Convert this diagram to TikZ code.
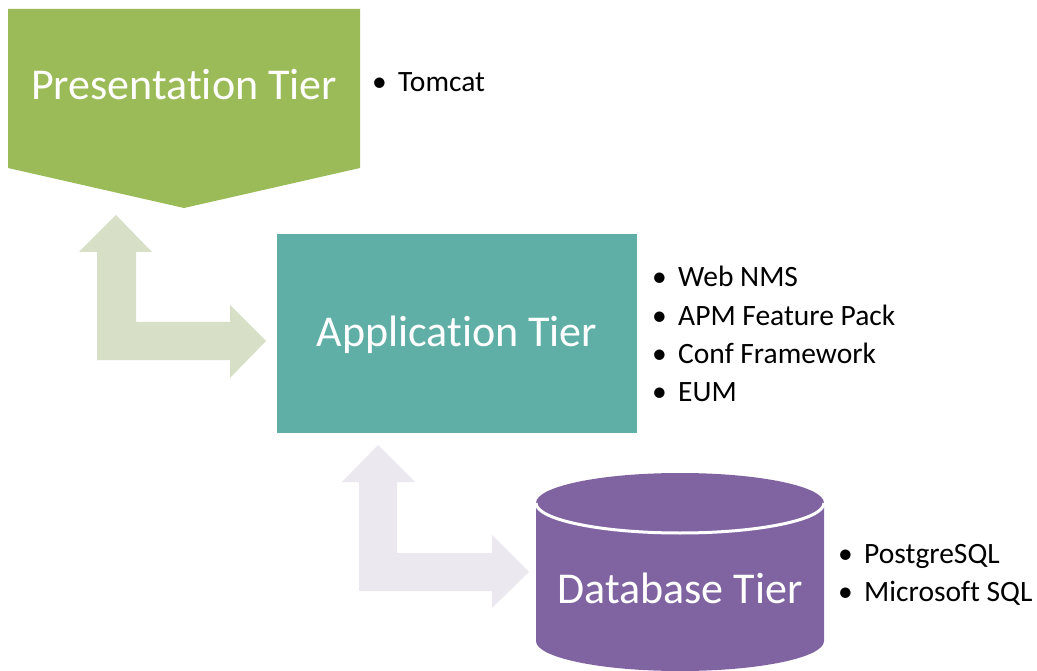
\documentclass[tikz,border=0pt]{standalone}
\usepackage{fontspec}
\setmainfont{Carlito}[RawFeature={-liga;-clig;-calt;-dlig}]
\usepackage{tikz}

\definecolor{presgreen}{HTML}{9BBB59}
\definecolor{appteal}{HTML}{5FAFA6}
\definecolor{dbpurple}{HTML}{8064A2}
\definecolor{lgreen}{HTML}{D7E0C6}
\definecolor{lgray}{HTML}{EBE9EF}

\tikzset{
  tier/.style={text=white, font=\fontsize{44}{53}\selectfont, anchor=base, inner sep=0pt},
  item/.style={anchor=base west, inner sep=0pt, font=\fontsize{29.5}{35}\selectfont},
}
\newcommand{\bul}[1]{\makebox[26pt][l]{\textbullet}#1}

\begin{document}
\begin{tikzpicture}[x=1pt,y=-1pt]
      \useasboundingbox (0,0) rectangle (1037,671);
      % presentation tier
      \path[fill=presgreen] (8,9) -- (360,9) -- (360,168) -- (184,208) -- (8,168) -- cycle;
      \node[tier] (pres) at (184,100) {Presentation Tier};
      \node[item] (pres0) at (372,92) {\bul{Tomcat}};
      % up/right arrows
      \path[fill=lgreen] (97,360) -- (97,252) -- (79,252) -- (116,215) -- (152,252) -- (136,252)
        -- (136,322) -- (230,322) -- (230,305) -- (266,341) -- (230,378) -- (230,360) -- cycle;
      \path[fill=lgray] (359,591) -- (359,482) -- (342,482) -- (378,445) -- (415,482) -- (397,482)
        -- (397,553) -- (492,553) -- (492,535) -- (529,572) -- (492,608) -- (492,591) -- cycle;
      % application tier
      \path[fill=appteal] (277,234) rectangle (637,433);
      \node[tier] (app) at (457,347) {Application Tier};
      \foreach \txt [count=\i from 0] in {Web NMS, APM Feature Pack, Conf Framework, EUM} {
        \node[item] (app\i) at (652,287+38.3*\i) {\bul{\txt}};
      }
      % database tier
      \path[fill=dbpurple] (536,503) -- (536,641) arc[start angle=180, end angle=0, x radius=144, y radius=30]
        -- (824,503) arc[start angle=0, end angle=-180, x radius=144, y radius=30] -- cycle;
      \path[draw=white,line width=3pt] (536,503) arc[start angle=180, end angle=0, x radius=144, y radius=30];
      \node[tier] (db) at (680,603) {Database Tier};
      \foreach \txt [count=\i from 0] in {PostgreSQL, Microsoft SQL} {
        \node[item] (db\i) at (838,563+38.5*\i) {\bul{\txt}};
      }
    \end{tikzpicture}
\end{document}
